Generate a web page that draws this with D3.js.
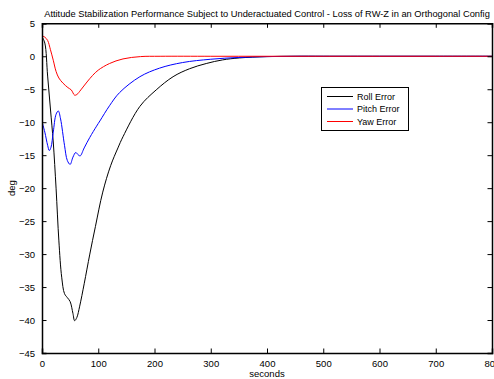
<!DOCTYPE html>
<html>
<head>
<meta charset="utf-8">
<script src="https://cdn.jsdelivr.net/npm/d3@7"></script>
<style>
  html, body { margin: 0; padding: 0; background: #fff; }
  svg { display: block; font-family: "Liberation Sans", Arial, sans-serif; }
</style>
</head>
<body>
<svg id="chart" width="494" height="379"></svg>
<script>
// Attitude error histories (deg) after loss of the Z reaction wheel
const rollTime  = [0, 5, 10, 15, 20, 25, 30, 35, 40, 45, 50, 55, 58, 62, 67, 75, 85, 95, 108, 122, 135, 144, 174, 203, 233, 262, 292, 321, 351, 400, 450, 500, 600, 700, 800];
const rollDeg   = [3, 2.0, -3, -8, -13, -20, -28, -33.5, -36, -36.6, -37.2, -39, -40.1, -39.6, -37.9, -34.5, -30, -25.8, -20.6, -16.6, -13.9, -12.2, -7.6, -5.1, -3.1, -1.9, -1.1, -0.55, -0.25, -0.05, 0, 0, 0, 0, 0];

const pitchTime = [0, 5, 10, 13, 16, 20, 25, 29, 33, 40, 45, 50, 55, 60, 65, 68, 75, 85, 97, 103, 120, 138, 174, 209, 250, 300, 350, 400, 450, 500, 600, 700, 800];
const pitchDeg  = [-9.9, -11.5, -13.5, -14.3, -13.8, -11.5, -8.8, -8.3, -9.5, -13.5, -15.8, -16.4, -15.3, -14.6, -15.0, -15.1, -13.9, -12.3, -10.6, -9.8, -7.5, -5.5, -3.1, -1.8, -0.95, -0.45, -0.18, -0.05, 0, 0, 0, 0, 0];

const yawTime   = [0, 5, 10, 15, 20, 25, 30, 37, 46, 52, 58, 62, 69, 80, 90, 100, 120, 144, 175, 210, 300, 400, 500, 600, 700, 800];
const yawDeg    = [3.1, 2.9, 2.4, 1.0, -0.6, -2.3, -3.3, -4.05, -4.75, -5.1, -5.9, -5.8, -5.1, -3.9, -2.9, -2.1, -1.1, -0.4, -0.05, 0, 0, 0, 0, 0, 0, 0];

const xTicks = [0, 100, 200, 300, 400, 500, 600, 700, 800];
const yTicks = [5, 0, -5, -10, -15, -20, -25, -30, -35, -40, -45];

const seriesNames = ["Roll Error", "Pitch Error", "Yaw Error"];
const seriesColors = ["#000000", "#0000ff", "#ff0000"];

const svg = d3.select("#chart");
const plot = { left: 42, right: 492, top: 23.3, bottom: 353 };

const x = d3.scaleLinear().domain([0, 800]).range([plot.left, plot.right]);
const y = d3.scaleLinear().domain([-45, 5]).range([plot.bottom, plot.top]);

// Curves, clipped to the axes box
svg.append("defs").append("clipPath").attr("id", "plotClip")
  .append("rect")
  .attr("x", plot.left).attr("y", plot.top)
  .attr("width", plot.right - plot.left).attr("height", plot.bottom - plot.top);

const line = d3.line()
  .x(d => x(d[0]))
  .y(d => y(d[1]))
  .curve(d3.curveCatmullRom.alpha(0.5));

const series = [
  d3.zip(rollTime, rollDeg),
  d3.zip(pitchTime, pitchDeg),
  d3.zip(yawTime, yawDeg)
];

const curves = svg.append("g").attr("clip-path", "url(#plotClip)");
series.forEach((pts, i) => {
  curves.append("path")
    .attr("d", line(pts))
    .attr("fill", "none")
    .attr("stroke", seriesColors[i])
    .attr("stroke-width", 1);
});

// Axes box with inward ticks on all four sides
const tickLen = 4.5;
const axisG = svg.append("g");

const bottomAxis = d3.axisBottom(x).tickValues(xTicks).tickSize(-tickLen).tickPadding(7);
const topAxis = d3.axisTop(x).tickValues(xTicks).tickSize(-tickLen).tickFormat("");
const leftAxis = d3.axisLeft(y).tickValues(yTicks).tickSize(-tickLen).tickPadding(7);
const rightAxis = d3.axisRight(y).tickValues(yTicks).tickSize(-tickLen).tickFormat("");

axisG.append("g").attr("transform", `translate(0,${plot.bottom})`).call(bottomAxis);
axisG.append("g").attr("transform", `translate(0,${plot.top})`).call(topAxis);
axisG.append("g").attr("transform", `translate(${plot.left},0)`).call(leftAxis);
axisG.append("g").attr("transform", `translate(${plot.right},0)`).call(rightAxis);

axisG.selectAll(".domain")
  .attr("stroke", "#000")
  .attr("stroke-width", 1.5);
axisG.selectAll(".tick line").attr("stroke", "#000").attr("stroke-width", 1);
axisG.selectAll(".tick text")
  .attr("fill", "#000")
  .style("font-size", "9.5px")
  .style("font-family", "'Liberation Sans', Arial, sans-serif");

// Title and axis labels
svg.append("text")
  .attr("x", (plot.left + plot.right) / 2)
  .attr("y", 17)
  .attr("text-anchor", "middle")
  .style("font-size", "9.3px")
  .text("Attitude Stabilization Performance Subject to Underactuated Control - Loss of RW-Z in an Orthogonal Config");

svg.append("text")
  .attr("x", (plot.left + plot.right) / 2)
  .attr("y", 377)
  .attr("text-anchor", "middle")
  .style("font-size", "9.5px")
  .text("seconds");

svg.append("text")
  .attr("transform", `translate(15,${(plot.top + plot.bottom) / 2}) rotate(-90)`)
  .attr("text-anchor", "middle")
  .style("font-size", "9.5px")
  .text("deg");

// Legend
const legend = { x: 321, y: 87, w: 87, h: 43 };
const lg = svg.append("g");
lg.append("rect")
  .attr("x", legend.x + 0.5).attr("y", legend.y + 0.5)
  .attr("width", legend.w).attr("height", legend.h)
  .attr("fill", "#fff")
  .attr("stroke", "#000")
  .attr("stroke-width", 1);

seriesNames.forEach((name, i) => {
  const yy = legend.y + 9.5 + i * 12.5;
  lg.append("line")
    .attr("x1", legend.x + 6).attr("x2", legend.x + 32)
    .attr("y1", yy).attr("y2", yy)
    .attr("stroke", seriesColors[i])
    .attr("stroke-width", 1);
  lg.append("text")
    .attr("x", legend.x + 36)
    .attr("y", yy + 3.3)
    .style("font-size", "9px")
    .text(name);
});
</script>
</body>
</html>
